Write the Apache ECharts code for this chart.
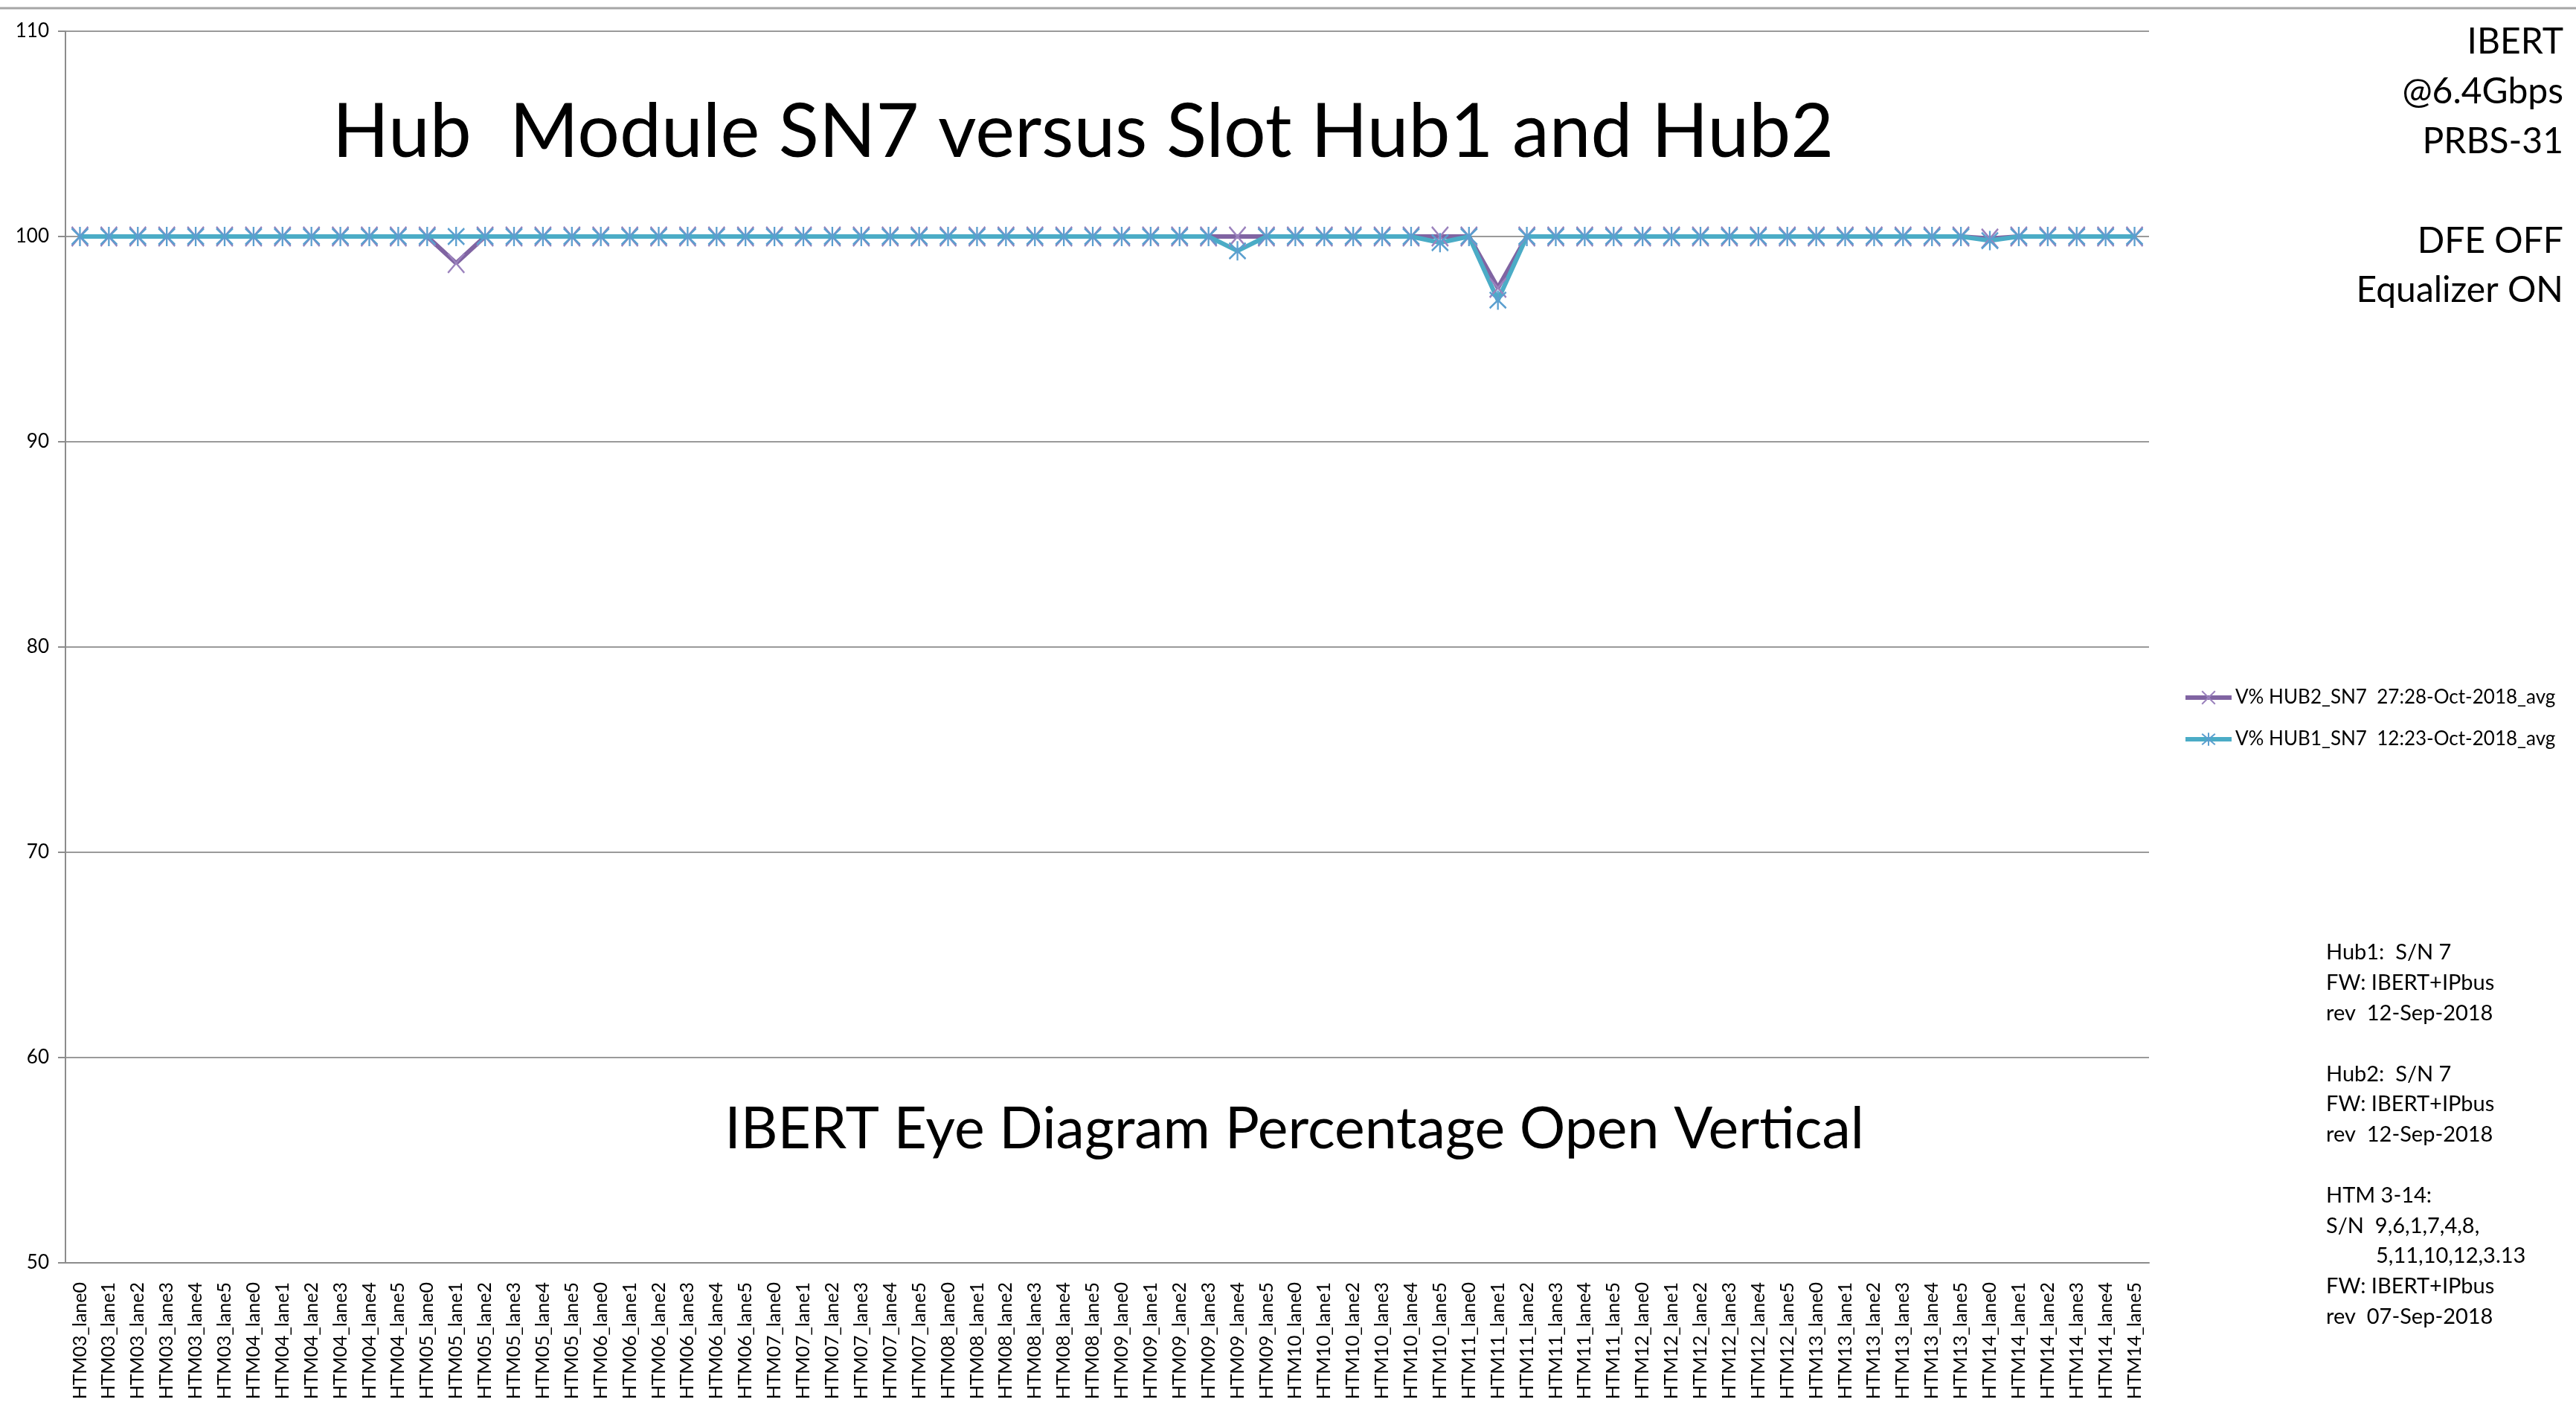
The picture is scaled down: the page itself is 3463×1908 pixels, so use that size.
<!DOCTYPE html>
<html>
<head>
<meta charset="utf-8">
<title>Hub Module SN7 versus Slot Hub1 and Hub2</title>
<script src="https://cdn.jsdelivr.net/npm/echarts@6/dist/echarts.min.js"></script>
<style>
  html, body { margin: 0; padding: 0; background: #ffffff; }
  #chart { width: 3463px; height: 1908px; }
</style>
</head>
<body>
<div id="chart"></div>
<script>
// categories: 12 HTM modules x 6 lanes
const modules = ["HTM03", "HTM04", "HTM05", "HTM06", "HTM07", "HTM08",
                 "HTM09", "HTM10", "HTM11", "HTM12", "HTM13", "HTM14"];
const lanes = ["lane0", "lane1", "lane2", "lane3", "lane4", "lane5"];
const categories = modules.flatMap((m) => lanes.map((l) => m + "_" + l));

// V% eye opening, one row per module (lane0..lane5)
const hub2Values = [
  100, 100, 100, 100, 100, 100,   // HTM03
  100, 100, 100, 100, 100, 100,   // HTM04
  100, 98.7, 100, 100, 100, 100,  // HTM05
  100, 100, 100, 100, 100, 100,   // HTM06
  100, 100, 100, 100, 100, 100,   // HTM07
  100, 100, 100, 100, 100, 100,   // HTM08
  100, 100, 100, 100, 100, 100,   // HTM09
  100, 100, 100, 100, 100, 100,   // HTM10
  100, 97.5, 100, 100, 100, 100,  // HTM11
  100, 100, 100, 100, 100, 100,   // HTM12
  100, 100, 100, 100, 100, 100,   // HTM13
  99.9, 100, 100, 100, 100, 100   // HTM14
];
const hub1Values = [
  100, 100, 100, 100, 100, 100,   // HTM03
  100, 100, 100, 100, 100, 100,   // HTM04
  100, 100, 100, 100, 100, 100,   // HTM05
  100, 100, 100, 100, 100, 100,   // HTM06
  100, 100, 100, 100, 100, 100,   // HTM07
  100, 100, 100, 100, 100, 100,   // HTM08
  100, 100, 100, 100, 99.3, 100,  // HTM09
  100, 100, 100, 100, 100, 99.7,  // HTM10
  100, 96.9, 100, 100, 100, 100,  // HTM11
  100, 100, 100, 100, 100, 100,   // HTM12
  100, 100, 100, 100, 100, 100,   // HTM13
  99.8, 100, 100, 100, 100, 100   // HTM14
];
const seriesNames = [
  "V% HUB2_SN7  27:28-Oct-2018_avg",
  "V% HUB1_SN7  12:23-Oct-2018_avg"
];

const yMin = 50;
const yMax = 110;
const yStep = 10;

const FONT = "Lato, 'Open Sans', sans-serif";

const setupLines = ["IBERT", "@6.4Gbps", "PRBS-31", "", "DFE OFF", "Equalizer ON"];
const noteLines = [
  ["Hub1:  S/N 7", 0],
  ["FW: IBERT+IPbus", 0],
  ["rev  12-Sep-2018", 0],
  ["", 0],
  ["Hub2:  S/N 7", 0],
  ["FW: IBERT+IPbus", 0],
  ["rev  12-Sep-2018", 0],
  ["", 0],
  ["HTM 3-14:", 0],
  ["S/N  9,6,1,7,4,8,", 0],
  ["5,11,10,12,3.13", 67],
  ["FW: IBERT+IPbus", 0],
  ["rev  07-Sep-2018", 0]
];

const chart = echarts.init(document.getElementById("chart"));

// markers are drawn as stroked paths (x and asterisk)
const xMark = "path://M0,0L10,12M10,0L0,12";
const starMark = "path://M0,1L10,11M10,1L0,11M5,0L5,12";

const option = {
  backgroundColor: "#ffffff",
  animation: false,
  grid: { left: 88, right: 574, top: 42, bottom: 210, outerBoundsMode: "none" },
  legend: {
    orient: "vertical",
    left: 2930,
    top: 920,
    itemWidth: 62,
    itemHeight: 22,
    itemGap: 30,
    lineStyle: { width: 6 },
    textStyle: { fontFamily: FONT, fontSize: 26, color: "#000" },
    data: seriesNames
  },
  xAxis: {
    type: "category",
    data: categories,
    boundaryGap: true,
    axisLine: { lineStyle: { color: "#8c8c8c", width: 2 } },
    axisTick: { interval: 0, length: 10, lineStyle: { color: "#8c8c8c", width: 2 } },
    axisLabel: {
      interval: 0,
      rotate: 90,
      margin: 26,
      fontFamily: FONT,
      fontSize: 25,
      color: "#000"
    }
  },
  yAxis: {
    type: "value",
    min: yMin,
    max: yMax,
    interval: yStep,
    axisLine: { show: true, lineStyle: { color: "#8c8c8c", width: 2 } },
    axisTick: { show: true, length: 10, lineStyle: { color: "#8c8c8c", width: 2 } },
    splitLine: { lineStyle: { color: "#9a9a9a", width: 2 } },
    axisLabel: { margin: 22, fontFamily: FONT, fontSize: 26, color: "#000" }
  },
  series: [
    {
      name: seriesNames[0],
      type: "line",
      data: hub2Values,
      symbol: xMark,
      symbolSize: [22, 26],
      showAllSymbol: true,
      lineStyle: { color: "#8064a2", width: 6 },
      itemStyle: { color: "#8064a2", borderColor: "#9b82bd", borderWidth: 2.5 },
      emphasis: { disabled: true }
    },
    {
      name: seriesNames[1],
      type: "line",
      data: hub1Values,
      symbol: starMark,
      symbolSize: [22, 26],
      showAllSymbol: true,
      lineStyle: { color: "#4bacc6", width: 6 },
      itemStyle: { color: "#4bacc6", borderColor: "#5b9fcf", borderWidth: 2.5 },
      emphasis: { disabled: true }
    }
  ],
  graphic: [
    {
      type: "line",
      shape: { x1: 0, y1: 11, x2: 3463, y2: 11 },
      style: { stroke: "#a6a6a6", lineWidth: 3 }
    },
    {
      type: "text",
      x: 1456,
      y: 179,
      style: {
        text: "Hub  Module SN7 versus Slot Hub1 and Hub2",
        font: "100px " + FONT,
        fill: "#000",
        textAlign: "center",
        textVerticalAlign: "middle"
      }
    },
    {
      type: "text",
      x: 1740,
      y: 1519,
      style: {
        text: "IBERT Eye Diagram Percentage Open Vertical",
        font: "77px " + FONT,
        fill: "#000",
        textAlign: "center",
        textVerticalAlign: "middle"
      }
    },
    ...setupLines.map((t, i) => ({
      type: "text",
      x: 3446,
      y: 57 + i * 66.8,
      style: {
        text: t,
        font: "48px " + FONT,
        fill: "#000",
        textAlign: "right",
        textVerticalAlign: "middle"
      }
    })),
    ...noteLines.map(([t, indent], i) => ({
      type: "text",
      x: 3127 + indent,
      y: 1281 + i * 40.8,
      style: {
        text: t,
        font: "29px " + FONT,
        fill: "#000",
        textAlign: "left",
        textVerticalAlign: "middle"
      }
    }))
  ]
};

chart.setOption(option);
window.addEventListener("resize", () => chart.resize());
</script>
</body>
</html>
